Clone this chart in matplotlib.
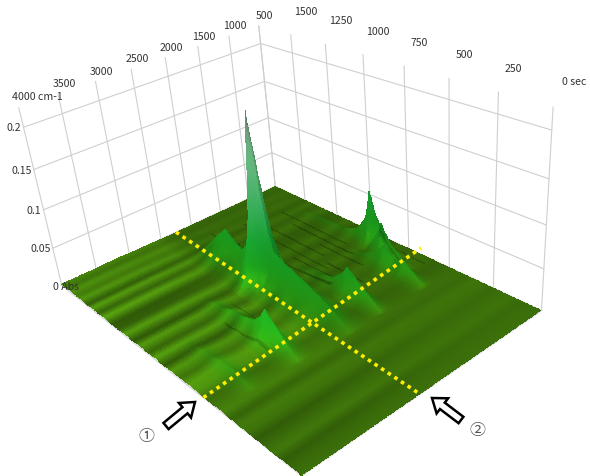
import numpy as np
import matplotlib
matplotlib.use('Agg')
import matplotlib.pyplot as plt

plt.rcParams['font.family'] = ['Noto Sans CJK JP', 'DejaVu Sans']

# axes
wn_ticks = [4000, 3500, 3000, 2500, 2000, 1500, 1000, 500]
wn_labels = ['4000 cm-1', '3500', '3000', '2500', '2000', '1500', '1000', '500']
t_ticks = [0, 250, 500, 750, 1000, 1250, 1500, 1750]
t_labels = ['0 sec', '250', '500', '750', '1000', '1250', '1500', '']
abs_ticks = [0, 0.05, 0.1, 0.15, 0.2]
abs_labels = ['0 Abs', '0.05', '0.1', '0.15', '0.2']

# box corners: wavenumber, time, absorbance -> pixel in the picture
corner_wn = [4000, 4000, 500, 500, 500, 500, 4000]
corner_t = [0, 1750, 1750, 0, 1750, 0, 1750]
corner_abs = [0, 0, 0, 0, 0.2, 0.2, 0.2]
corner_x = [302, 61, 276, 541, 260, 552, 24]
corner_y = [476, 284, 187, 310, 43, 130, 128]

# absorption ridges, absorbance read along time at a fixed wavenumber
band_a_wn = 2215
band_a_t = [460, 520, 600, 700, 800, 880, 950, 980, 1010, 1040, 1070, 1100, 1140, 1190, 1250, 1310, 1420, 1500, 1750]
band_a_abs = [0, 0.008, 0.018, 0.028, 0.036, 0.042, 0.05, 0.08, 0.13, 0.208, 0.13, 0.08, 0.04, 0.028, 0.034, 0.044, 0.02, 0.002, 0]
band_b_wn = 2950
band_b_t = [470, 540, 600, 640, 670, 700, 760, 850, 1000, 1150]
band_b_abs = [0, 0.012, 0.025, 0.033, 0.04, 0.028, 0.016, 0.012, 0.006, 0]
band_c_wn = 1720
band_c_t = [470, 540, 600, 640, 675, 710, 780, 900, 1050]
band_c_abs = [0, 0.012, 0.022, 0.03, 0.036, 0.024, 0.012, 0.006, 0]
band_d_wn = 745
band_d_t = [700, 780, 840, 880, 905, 935, 1000, 1100, 1300, 1450]
band_d_abs = [0, 0.012, 0.03, 0.05, 0.072, 0.035, 0.014, 0.006, 0.005, 0]
band_e_wn = 1020
band_e_t = [470, 540, 600, 650, 720, 770, 840, 950]
band_e_abs = [0, 0.012, 0.022, 0.018, 0.03, 0.016, 0.008, 0]
band_f_wn = 3580
band_f_t = [470, 530, 600, 680, 800, 950]
band_f_abs = [0, 0.005, 0.008, 0.006, 0.004, 0]
band_g_wn = 860
band_g_t = [600, 680, 740, 790, 830, 900]
band_g_abs = [0, 0.012, 0.024, 0.045, 0.022, 0]

band_wn = [band_a_wn, band_b_wn, band_c_wn, band_d_wn, band_e_wn, band_f_wn, band_g_wn]
band_t = [band_a_t, band_b_t, band_c_t, band_d_t, band_e_t, band_f_t, band_g_t]
band_abs = [band_a_abs, band_b_abs, band_c_abs, band_d_abs, band_e_abs, band_f_abs, band_g_abs]
band_width = [1.45, 1, 0.85, 0.65, 0.8, 1, 0.6]

# cross section of a ridge
side_offset = [0, 40, 80, 130, 200, 280]
side_frac = [1, 0.72, 0.47, 0.24, 0.08, 0]

# light and dark bands of the sheet at fixed time
shade_t = [0, 50, 100, 150, 200, 250, 300, 350, 400, 450, 500, 560, 620, 680, 740, 800, 860, 920, 980, 1040,
           1100, 1160, 1220, 1280, 1340, 1400, 1450, 1500, 1550, 1600, 1650, 1700, 1750]
shade_val = [1.0, 0.95, 0.85, 1.06, 0.96, 0.84, 1.02, 1.08, 0.88, 1.08, 0.98, 0.86, 1.12, 1.2, 0.9, 1.15, 0.72, 1.22, 0.8,
             1.18, 0.7, 1.2, 0.78, 0.72, 1.25, 0.8, 1.2, 0.75, 1.15, 0.95, 1.1, 0.9, 1.05]
# how strong those bands are across the sheet
amp_wn = [4000, 3200, 2500, 2200, 1500, 500]
amp_val = [1.15, 1.1, 0.8, 0.6, 0.4, 0.35]
# general level of the older half of the sheet
level_wn = [4000, 2600, 2300, 500]
level_val = [1.16, 1.1, 0.92, 0.9]

# thin dark creases running along time
crease_wn = [3090, 2790, 2050, 1960, 1900, 1780, 1610, 1500, 1420, 1330, 1170, 1060, 940, 880, 640]
crease_from = [600, 700, 760, 1100, 900, 760, 800, 900, 700, 1000, 800, 900, 1000, 600, 600]
crease_to = [900, 1000, 1500, 1600, 1400, 1300, 1100, 1550, 950, 1450, 1100, 1350, 1500, 800, 900]
crease_depth = [0.6, 0.6, 0.45, 0.55, 0.4, 0.4, 0.45, 0.5, 0.45, 0.45, 0.45, 0.4, 0.5, 0.45, 0.5]

# sheet colour by height
color_abs = [0, 0.004, 0.012, 0.03, 0.06, 0.1, 0.15, 0.185, 0.208]
color_r = [60, 50, 36, 26, 22, 58, 105, 110, 95]
color_g = [112, 118, 132, 148, 155, 172, 185, 150, 105]
color_b = [10, 12, 16, 26, 46, 92, 130, 120, 100]

# hand drawn dotted lines on the picture
line_1_wn = [2255, 2447]
line_1_t = [1750, 0]
line_2_wn = [4000, 390]
line_2_t = [580, 710]

# perspective from the box corners
rows = []
rhs = []
for w, t, z, x, y in zip(corner_wn, corner_t, corner_abs, corner_x, corner_y):
    a, b, c = (4000 - w) / 3500, t / 1750, z / 0.2
    rows.append([a, b, c, 1, 0, 0, 0, 0, -a * x, -b * x, -c * x])
    rhs.append(x)
    rows.append([0, 0, 0, 0, a, b, c, 1, -a * y, -b * y, -c * y])
    rhs.append(y)
P = np.linalg.lstsq(np.array(rows, float), np.array(rhs, float), rcond=None)[0]


def project(wn, t, z):
    a = (4000 - np.asarray(wn, float)) / 3500
    b = np.asarray(t, float) / 1750
    c = np.asarray(z, float) / 0.2
    d = P[8] * a + P[9] * b + P[10] * c + 1
    return (P[0] * a + P[1] * b + P[2] * c + P[3]) / d, (P[4] * a + P[5] * b + P[6] * c + P[7]) / d


def soften(arr):
    out = arr.copy()
    out[1:-1] = 0.25 * arr[:-2] + 0.5 * arr[1:-1] + 0.25 * arr[2:]
    tmp = out.copy()
    out[:, 1:-1] = 0.25 * tmp[:, :-2] + 0.5 * tmp[:, 1:-1] + 0.25 * tmp[:, 2:]
    return out


fig = plt.figure(figsize=(5.9, 4.76), dpi=100)
ax = fig.add_axes([0, 0, 1, 1])
ax.set_xlim(0, 590)
ax.set_ylim(476, 0)
ax.axis('off')

grid_c = '#cfcfcf'
top = 0.2225
for w in wn_ticks:
    x, y = project([w, w], [1750, 1750], [0, top])
    ax.plot(x, y, color=grid_c, lw=0.8)
for t in t_ticks:
    x, y = project([500, 500], [t, t], [0, top])
    ax.plot(x, y, color=grid_c, lw=0.8)
for z in abs_ticks:
    x, y = project([4000, 500], [1750, 1750], [z, z])
    ax.plot(x, y, color=grid_c, lw=0.8)
    x, y = project([500, 500], [1750, 0], [z, z])
    ax.plot(x, y, color=grid_c, lw=0.8)
x, y = project([4000, 4000, 500], [1750, 0, 0], [0, 0, 0])
ax.plot(x, y, color='#d8d8d8', lw=1.4)

# sheet mesh, far corner first so that near cells paint over far ones
wn_mesh = np.unique(np.concatenate([np.linspace(500, 4000, 320), band_wn]))
t_mesh = np.unique(np.concatenate([np.linspace(0, 1750, 260), [1040, 905, 790, 675, 670]]))[::-1]
wn_grid, t_grid = np.meshgrid(wn_mesh, t_mesh)
z_grid = np.zeros_like(wn_grid)
for w0, ts, zs, wd in zip(band_wn, band_t, band_abs, band_width):
    ridge = np.interp(t_grid, ts, zs)
    side = np.interp(np.abs(wn_grid - w0) / wd, side_offset, side_frac)
    z_grid = np.maximum(z_grid, ridge * side)

# slope in pixels, towards the viewer and towards the wall
h = z_grid / 0.2 * 165
dh_t = (h[:-1, :-1] - h[1:, :-1]) / np.abs(t_grid[:-1, :-1] - t_grid[1:, :-1]) * 1750 / 300
dh_w = (h[:-1, :-1] - h[:-1, 1:]) / np.abs(wn_grid[:-1, 1:] - wn_grid[:-1, :-1]) * 3500 / 260

zc = (z_grid[:-1, :-1] + z_grid[1:, :-1] + z_grid[:-1, 1:] + z_grid[1:, 1:]) / 4
wc = (wn_grid[:-1, :-1] + wn_grid[:-1, 1:]) / 2
tc = (t_grid[:-1, :-1] + t_grid[1:, :-1]) / 2
rgb = np.dstack([np.interp(zc, color_abs, color_r), np.interp(zc, color_abs, color_g),
                 np.interp(zc, color_abs, color_b)]) / 255

# the sheet rolls a little with the bands on the high wavenumber side
roll = np.interp(t_grid, shade_t, shade_val) - 0.7
z_grid = z_grid + 0.004 * roll * np.clip((wn_grid - 2400) / 800, 0, 1) * np.clip((t_grid - 300) / 200, 0, 1)

X, Y = project(wn_grid, t_grid, z_grid)

band = 1 + (np.interp(tc, shade_t, shade_val) - 1) * np.interp(-wc, -np.array(amp_wn), amp_val)
band = 1 + (band - 1) * (1 - np.clip(zc / 0.02, 0, 1))
level = 1 + (np.interp(-wc, -np.array(level_wn), level_val) - 1) * np.clip((tc - 350) / 250, 0, 1)
rgb = rgb * (band * level)[..., None]
for w0, t0, t1, dep in zip(crease_wn, crease_from, crease_to, crease_depth):
    j = np.argmin(np.abs(wc[0] - w0))
    keep = (tc[:, j] > t0) & (tc[:, j] < t1)
    rgb[:, j][keep] *= dep

front = np.clip(dh_t, 0, 1.5) / 1.5
low = 1 - np.clip(zc / 0.03, 0, 1)
rgb[..., 0] += 0.09 * front * low
rgb[..., 1] += 0.26 * front * low
rgb[..., 2] += 0.03 * front * low
rgb = rgb * (1 + 0.07 * np.clip(dh_w, -1.5, 1.5))[..., None]
rgb = np.clip(soften(rgb), 0, 1)

ax.pcolormesh(X, Y, rgb, shading='flat', zorder=3)

# yellow lines
x, y = project(line_1_wn, line_1_t, [0, 0])
ax.plot(x, y, color='#ffee00', lw=2.6, ls=(0, (1, 1.2)), dash_capstyle='butt', zorder=4)
x, y = project(line_2_wn, line_2_t, [0, 0])
ax.plot(x, y, color='#ffee00', lw=2.6, ls=(0, (1, 1.2)), dash_capstyle='butt', zorder=4)

# labels
txt = dict(fontsize=7.6, color='#333333', va='center', zorder=5)
for w, s in zip(wn_ticks, wn_labels):
    x, y = project(w, 1750, top)
    if w == 4000:
        ax.text(x - 7, y - 11, s, ha='left', **txt)
    else:
        ax.text(x + 6, y - 10, s, ha='center', **txt)
for t, s in zip(t_ticks, t_labels):
    x, y = project(500, t, top)
    if t == 0:
        ax.text(x + 9, y - 25, s, ha='left', **txt)
    else:
        ax.text(x + 15, y - 23, s, ha='center', **txt)
for z, s in zip(abs_ticks, abs_labels):
    x, y = project(4000, 1750, z)
    if z == 0:
        ax.text(x - 9, y + 2, s, ha='left', **txt)
    else:
        ax.text(x - 2, y + 1, s, ha='right', **txt)

# arrows and their marks
ax.arrow(166, 426, 29, -24, width=8, head_width=19, head_length=13, length_includes_head=True,
         fc='white', ec='black', lw=1.8, zorder=5)
ax.arrow(461, 420, -29, -22, width=8, head_width=19, head_length=13, length_includes_head=True,
         fc='white', ec='black', lw=1.8, zorder=5)
ax.text(146.5, 436, '\u2460', fontsize=11.5, color='#555555', ha='center', va='center')
ax.text(477, 431, '\u2461', fontsize=11.5, color='#555555', ha='center', va='center')

fig.savefig('out.png', dpi=100)
